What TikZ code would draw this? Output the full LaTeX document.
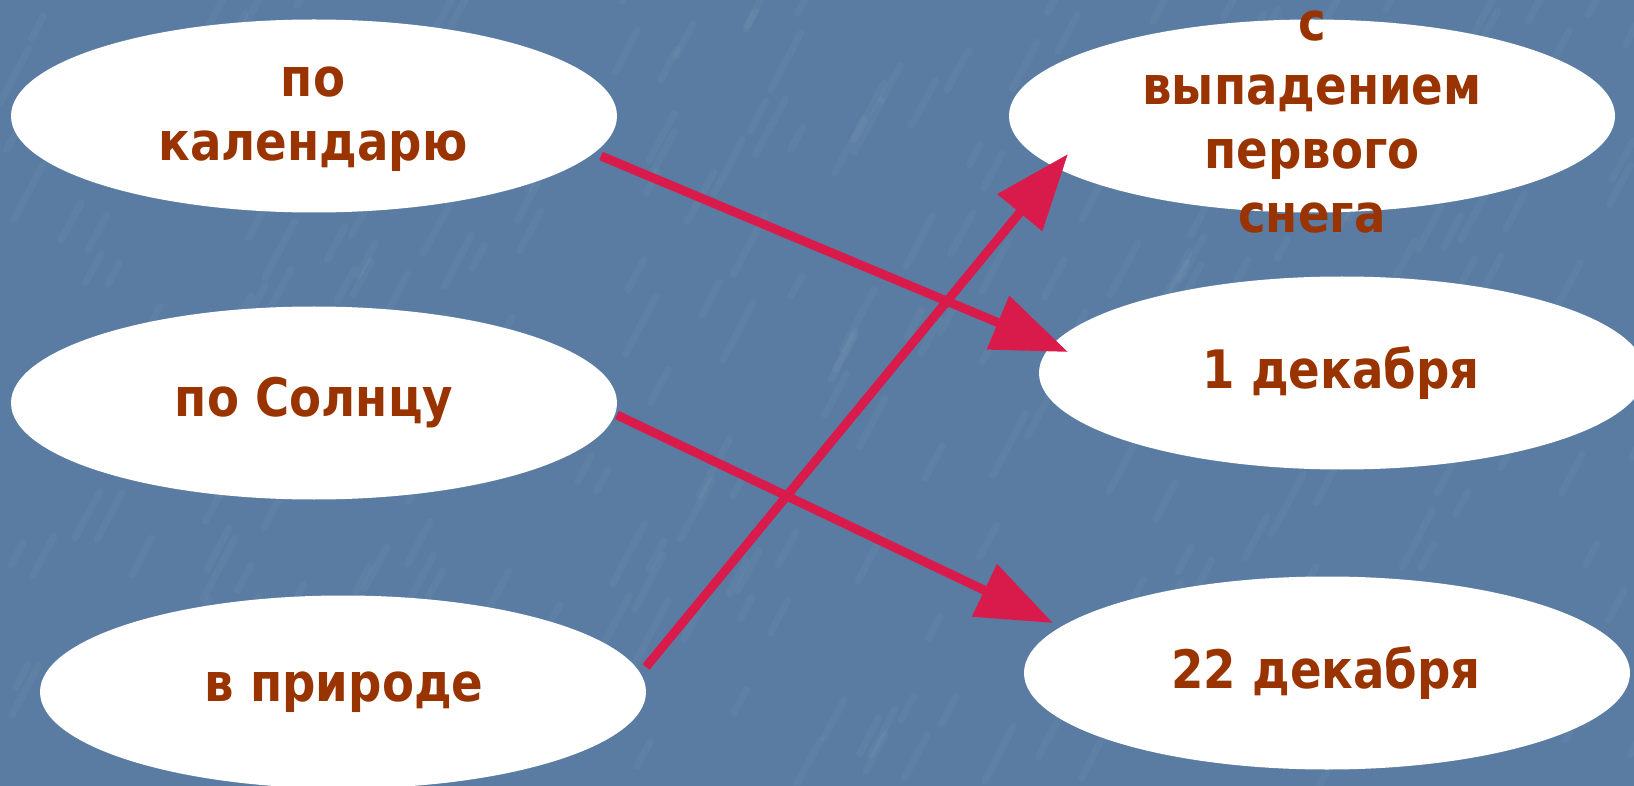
\documentclass[tikz,border=0pt]{standalone}
\usepackage{fontspec}
\setmainfont{DejaVu Sans}
\newfontfamily\lblfont{DejaVu Sans}[FakeStretch=0.88]
\usetikzlibrary{arrows.meta,shapes.geometric}
\definecolor{bgblue}{HTML}{5A7CA2}
\definecolor{txtbrown}{HTML}{993300}
\definecolor{arrred}{HTML}{D81B4A}
\begin{document}
\begin{tikzpicture}[x=1pt,y=-1pt,
  oval/.style={ellipse, fill=white, inner sep=0pt, minimum width=606pt, minimum height=193pt},
  lbl/.style={font=\lblfont\bfseries\fontsize{53}{64}\selectfont, text=txtbrown, align=center, inner sep=0pt},
  link/.style={draw=arrred, line width=9pt, -{Triangle[length=76pt,width=56pt]}},
  streak/.style={white, opacity=0.035, line width=7pt, line cap=round}]
\fill[bgblue] (0,0) rectangle (1634,786);
\useasboundingbox (0,0) rectangle (1634,786);
% faint texture of the background
\pgfmathsetseed{7}
\foreach \i in {1,...,300}{
  \pgfmathsetmacro\xx{rnd*1634}
  \pgfmathsetmacro\yy{rnd*786}
  \pgfmathsetmacro\ll{20+rnd*50}
  \draw[streak] (\xx,\yy) -- ++(-62:\ll);
}
% ovals
\node[oval] (e1) at (314,116) {};
\node[oval] (e2) at (314,403) {};
\node[oval] (e3) at (343,692) {};
\node[oval] (e4) at (1312,116) {};
\node[oval] (e5) at (1342,373) {};
\node[oval] (e6) at (1327,673) {};
% connector end points
\coordinate (s1) at (601,156);
\coordinate (h1) at (1068,352);
\coordinate (s2) at (617,415);
\coordinate (h2) at (1053,623);
\coordinate (s3) at (646,667);
\coordinate (h3) at (1068,154);
\draw[link] (s1) -- (h1);
\draw[link] (s2) -- (h2);
\draw[link] (s3) -- (h3);
% labels
\node[lbl] (t1) at (313,119) {по\\календарю};
\node[lbl] (t2) at (314,403) {по Солнцу};
\node[lbl] (t3) at (344,692) {в природе};
\node[lbl] (t4) at (1312,122) {с\\выпадением\\первого\\снега};
\node[lbl] (t5) at (1341,373) {1 декабря};
\node[lbl] (t6) at (1326,673) {22 декабря};
\end{tikzpicture}
\end{document}
